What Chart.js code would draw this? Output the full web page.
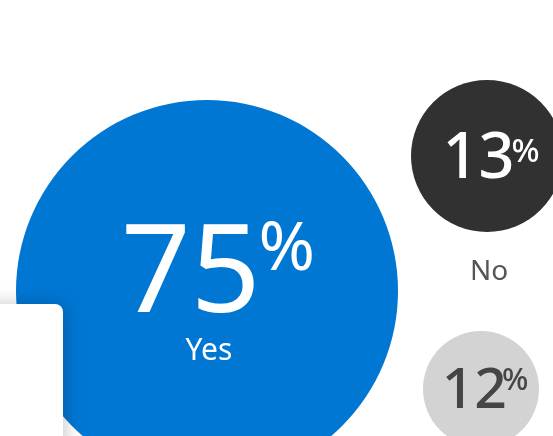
<!DOCTYPE html>
<html>
<head>
<meta charset="utf-8">
<script src="https://cdn.jsdelivr.net/npm/chart.js@4/dist/chart.umd.min.js"></script>
<style>
  html, body { margin: 0; padding: 0; background: #fff; overflow: hidden; }
  #wrap { position: relative; width: 553px; height: 436px; }
</style>
</head>
<body>
<div id="wrap"><canvas id="pollChart"></canvas></div>
<script>
// answers and their shares (%)
const answers = ['Yes', 'No', ''];
const shares = [75, 13, 12];

// bubble placement on the hidden 553 x 436 scales
const bubbleX = [207, 487, 481];
const bubbleY = [291, 156, 389];
const bubbleR = [191, 76, 58];
const bubbleColors = ['#0177d4', '#313131', '#d3d3d3'];

// label styling per bubble
const labelStyle = [
  { color: '#ffffff', size: 122, weight: 400, pct: 68, gap: -2, dx: 11, dy: 21, pctRise: 42, label: 30, labelDy: 69, labelColor: '#ffffff' },
  { color: '#ffffff', size: 63, weight: 500, pct: 33, gap: -3, dx: 4, dy: 22, pctRise: 16, label: 28, labelDy: 124, labelColor: '#555555' },
  { color: '#454545', size: 57, weight: 500, pct: 31, gap: -5, dx: 4, dy: 19, pctRise: 18, label: 28, labelDy: 0, labelColor: '#555555' }
];

const FONT = '"Noto Sans", "Open Sans", sans-serif';

const shareLabels = {
  id: 'shareLabels',
  afterDatasetsDraw(chart) {
    const ctx = chart.ctx;
    const meta = chart.getDatasetMeta(0);
    meta.data.forEach((pt, i) => {
      const s = labelStyle[i];
      const num = String(shares[i]);
      ctx.save();
      ctx.fillStyle = s.color;
      ctx.textBaseline = 'alphabetic';
      ctx.textAlign = 'left';
      ctx.font = `${s.weight} ${s.size}px ${FONT}`;
      const wNum = ctx.measureText(num).width;
      ctx.font = `${s.weight} ${s.pct}px ${FONT}`;
      const wPct = ctx.measureText('%').width;
      const total = wNum + s.gap + wPct;
      const left = pt.x - total / 2 + s.dx;
      const base = pt.y + s.dy;
      ctx.font = `${s.weight} ${s.size}px ${FONT}`;
      ctx.fillText(num, left, base);
      ctx.font = `${s.weight} ${s.pct}px ${FONT}`;
      ctx.fillText('%', left + wNum + s.gap, base - s.pctRise);
      if (answers[i]) {
        ctx.textAlign = 'center';
        ctx.fillStyle = s.labelColor;
        ctx.font = `400 ${s.label}px ${FONT}`;
        ctx.fillText(answers[i], pt.x + 2, pt.y + s.labelDy);
      }
      ctx.restore();
    });

    // white card overlapping the lower left corner
    ctx.save();
    ctx.shadowColor = 'rgba(0,0,0,0.22)';
    ctx.shadowBlur = 18;
    ctx.shadowOffsetX = 2;
    ctx.shadowOffsetY = 0;
    ctx.fillStyle = '#ffffff';
    ctx.beginPath();
    ctx.roundRect(-20, 304, 83, 160, 8);
    ctx.fill();
    ctx.restore();
  }
};

new Chart(document.getElementById('pollChart'), {
  type: 'bubble',
  data: {
    labels: answers,
    datasets: [{
      data: shares.map((v, i) => ({ x: bubbleX[i], y: bubbleY[i], r: bubbleR[i], v })),
      backgroundColor: bubbleColors,
      borderWidth: 0,
      hoverRadius: 0,
      clip: false
    }]
  },
  options: {
    responsive: true,
    maintainAspectRatio: false,
    animation: false,
    events: [],
    layout: { padding: 0, autoPadding: false },
    plugins: { legend: { display: false }, tooltip: { enabled: false } },
    scales: {
      x: { type: 'linear', min: 0, max: 553, display: false },
      y: { type: 'linear', min: 0, max: 436, reverse: true, display: false }
    }
  },
  plugins: [shareLabels]
});
</script>
</body>
</html>
